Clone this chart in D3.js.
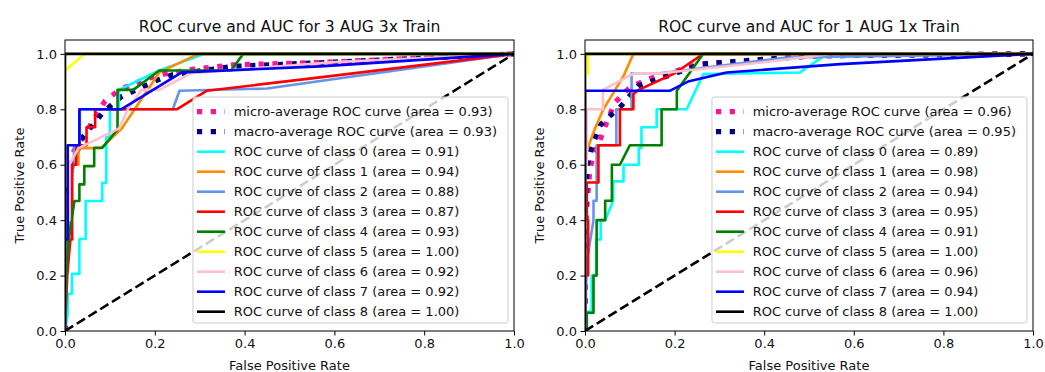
<!DOCTYPE html>
<html>
<head>
<meta charset="utf-8">
<script src="https://cdn.jsdelivr.net/npm/d3@7"></script>
<style>
body { margin: 0; background: #fff; }
text { font-family: "DejaVu Sans", sans-serif; fill: #111; }
</style>
</head>
<body>
<div id="chart"></div>
<script>
// chart values
var titles = ["ROC curve and AUC for 3 AUG 3x Train", "ROC curve and AUC for 1 AUG 1x Train"];
var tickValues = [0, 0.2, 0.4, 0.6, 0.8, 1.0];
var classColors = ["#00ffff", "#ff8c00", "#6495ed", "#ff0000", "#008000", "#ffff00", "#ffc0cb", "#0000ff", "#000000"];
var microColor = "#ff1493", macroColor = "#000080";

var aug3MicroArea = 0.93, aug3MacroArea = 0.93;
var aug3ClassAreas = [0.91, 0.94, 0.88, 0.87, 0.93, 1.00, 0.92, 0.92, 1.00];
var aug1MicroArea = 0.96, aug1MacroArea = 0.95;
var aug1ClassAreas = [0.89, 0.98, 0.94, 0.95, 0.91, 1.00, 0.96, 0.94, 1.00];

// [fpr, tpr] points, 3 AUG 3x
var aug3Micro = [[0,0],[0,0.3],[0.01,0.55],[0.02,0.65],[0.04,0.7],[0.063,0.76],[0.089,0.83],[0.119,0.867],[0.148,0.89],[0.182,0.91],[0.219,0.927],[0.286,0.945],[0.375,0.96],[0.568,0.969],[1,1]];
var aug3Macro = [[0,0],[0,0.3],[0.005,0.5],[0.02,0.62],[0.04,0.7],[0.063,0.745],[0.085,0.79],[0.125,0.845],[0.165,0.875],[0.205,0.905],[0.24,0.925],[0.375,0.955],[0.57,0.968],[1,1]];
var aug3Class0 = [[0,0],[0.006,0.06],[0.006,0.134],[0.0155,0.134],[0.0155,0.206],[0.032,0.206],[0.032,0.332],[0.046,0.332],[0.046,0.469],[0.083,0.469],[0.083,0.535],[0.092,0.535],[0.092,0.70],[0.10,0.70],[0.10,0.80],[0.12,0.80],[0.12,0.87],[0.21,0.94],[0.31,1],[1,1]];
var aug3Class1 = [[0,0],[0,0.33],[0.01,0.33],[0.01,0.6],[0.03,0.6],[0.03,0.66],[0.08,0.66],[0.126,0.73],[0.21,0.933],[0.297,1],[1,1]];
var aug3Class2 = [[0,0],[0.003,0.2],[0.006,0.5],[0.02,0.6],[0.02,0.67],[0.033,0.67],[0.033,0.8],[0.24,0.8],[0.255,0.867],[0.45,0.875],[1,1]];
var aug3Class3 = [[0,0],[0.005,0.2],[0.012,0.33],[0.016,0.33],[0.016,0.6],[0.025,0.6],[0.025,0.67],[0.048,0.67],[0.048,0.735],[0.067,0.735],[0.067,0.8],[0.249,0.8],[0.316,0.867],[0.568,0.915],[1,1]];
var aug3Class4 = [[0,0],[0.003,0.2],[0.008,0.33],[0.021,0.469],[0.032,0.469],[0.032,0.529],[0.043,0.529],[0.043,0.595],[0.065,0.595],[0.065,0.661],[0.083,0.661],[0.117,0.727],[0.117,0.87],[0.152,0.87],[0.21,0.94],[0.37,0.94],[0.397,1],[1,1]];
var aug3Class5 = [[0,0],[0,0.94],[0.044,1],[1,1]];
var aug3Class6 = [[0,0],[0,0.4],[0.01,0.4],[0.01,0.6],[0.03,0.66],[0.12,0.73],[0.14,0.8],[0.17,0.87],[0.21,0.87],[0.28,0.93],[0.6,0.97],[1,1]];
var aug3Class7 = [[0,0],[0,0.33],[0.006,0.33],[0.006,0.67],[0.032,0.67],[0.032,0.8],[0.125,0.8],[0.26,0.933],[0.568,0.955],[1,1]];
var aug3Class8 = [[0,0],[0,1],[1,1]];

// [fpr, tpr] points, 1 AUG 1x
var aug1Micro = [[0,0],[0,0.3],[0.004,0.45],[0.011,0.585],[0.02,0.64],[0.033,0.687],[0.05,0.76],[0.067,0.825],[0.1,0.879],[0.141,0.909],[0.205,0.939],[0.253,0.963],[0.51,0.993],[1,1]];
var aug1Macro = [[0,0],[0,0.35],[0.004,0.59],[0.015,0.663],[0.033,0.741],[0.056,0.777],[0.078,0.807],[0.119,0.885],[0.175,0.915],[0.26,0.963],[0.357,0.975],[0.51,0.993],[1,1]];
var aug1Class0 = [[0,0],[0.004,0.02],[0.004,0.07],[0.015,0.07],[0.015,0.2],[0.025,0.2],[0.025,0.33],[0.035,0.33],[0.035,0.4],[0.045,0.4],[0.063,0.47],[0.063,0.54],[0.086,0.54],[0.086,0.6],[0.12,0.6],[0.12,0.66],[0.126,0.66],[0.126,0.735],[0.16,0.735],[0.16,0.8],[0.227,0.8],[0.264,0.927],[0.48,0.933],[0.54,1],[1,1]];
var aug1Class1 = [[0,0],[0,0.6],[0.004,0.65],[0.022,0.73],[0.041,0.8],[0.06,0.85],[0.086,0.92],[0.108,1],[1,1]];
var aug1Class2 = [[0,0],[0.004,0.25],[0.019,0.4],[0.019,0.47],[0.026,0.47],[0.026,0.67],[0.07,0.67],[0.07,0.8],[0.104,0.8],[0.104,0.93],[0.167,0.93],[0.45,0.987],[1,1]];
var aug1Class3 = [[0,0],[0,0.2],[0.007,0.2],[0.007,0.4],[0.004,0.4],[0.004,0.536],[0.03,0.536],[0.03,0.67],[0.078,0.67],[0.078,0.8],[0.108,0.8],[0.108,0.855],[0.12,0.87],[0.2,0.93],[0.264,1],[1,1]];
var aug1Class4 = [[0,0],[0.004,0],[0.004,0.066],[0.019,0.066],[0.019,0.2],[0.026,0.2],[0.026,0.4],[0.045,0.4],[0.045,0.47],[0.06,0.47],[0.06,0.6],[0.078,0.6],[0.1,0.67],[0.171,0.67],[0.171,0.8],[0.205,0.8],[0.205,0.867],[0.264,1],[1,1]];
var aug1Class5 = [[0,0],[0,0.93],[0.007,0.93],[0.007,1],[1,1]];
var aug1Class6 = [[0,0],[0,0.6],[0.004,0.6],[0.004,0.8],[0.04,0.8],[0.04,0.87],[0.11,0.93],[0.17,0.93],[0.4,0.97],[0.55,1],[1,1]];
var aug1Class7 = [[0,0],[0,0.867],[0.19,0.867],[0.23,0.9],[0.316,0.933],[0.57,0.963],[1,1]];
var aug1Class8 = [[0,0],[0,1],[1,1]];

var aug3Classes = [aug3Class0, aug3Class1, aug3Class2, aug3Class3, aug3Class4, aug3Class5, aug3Class6, aug3Class7, aug3Class8];
var aug1Classes = [aug1Class0, aug1Class1, aug1Class2, aug1Class3, aug1Class4, aug1Class5, aug1Class6, aug1Class7, aug1Class8];

var svg = d3.select("#chart").append("svg")
    .attr("width", 1045)
    .attr("height", 372);

var f2 = d3.format(".2f"), f1 = d3.format(".1f");

function drawPanel(idx, x0, x1, micro, macro, microArea, macroArea, classes, areas) {
    var top = 40, bottom = 331;
    var x = d3.scaleLinear().domain([0, 1]).range([x0, x1]);
    var y = d3.scaleLinear().domain([0, 1.05]).range([bottom, top]);
    var g = svg.append("g");

    g.append("clipPath").attr("id", "clip" + idx)
      .append("rect").attr("x", x0).attr("y", top).attr("width", x1 - x0).attr("height", bottom - top);

    var line = d3.line().x(function(d) { return x(d[0]); }).y(function(d) { return y(d[1]); });
    var plot = g.append("g").attr("clip-path", "url(#clip" + idx + ")");

    // series list: label, data, colour, width, dash
    var series = [
        {label: "micro-average ROC curve (area = " + f2(microArea) + ")", data: micro, color: microColor, w: 5.2, dash: "5.2,8.6"},
        {label: "macro-average ROC curve (area = " + f2(macroArea) + ")", data: macro, color: macroColor, w: 5.2, dash: "5.2,8.6"}
    ];
    classes.forEach(function(c, i) {
        series.push({label: "ROC curve of class " + i + " (area = " + f2(areas[i]) + ")", data: c, color: classColors[i], w: 2.6, dash: null});
    });

    series.forEach(function(s) {
        plot.append("path")
          .attr("d", line(s.data))
          .attr("fill", "none")
          .attr("stroke", s.color)
          .attr("stroke-width", s.w)
          .attr("stroke-linejoin", "round")
          .attr("stroke-dasharray", s.dash);
    });

    // chance line
    plot.append("path")
      .attr("d", line([[0, 0], [1, 1]]))
      .attr("fill", "none")
      .attr("stroke", "#000")
      .attr("stroke-width", 2.6)
      .attr("stroke-dasharray", "9.6,4.2");

    // frame
    g.append("rect")
      .attr("x", x0).attr("y", top).attr("width", x1 - x0).attr("height", bottom - top)
      .attr("fill", "none").attr("stroke", "#000").attr("stroke-width", 1);

    var xAxis = g.append("g").attr("transform", "translate(0," + bottom + ")")
      .call(d3.axisBottom(x).tickValues(tickValues).tickFormat(f1).tickSize(4.5).tickSizeOuter(0).tickPadding(3.5));
    var yAxis = g.append("g").attr("transform", "translate(" + x0 + ",0)")
      .call(d3.axisLeft(y).tickValues(tickValues).tickFormat(f1).tickSize(4.5).tickSizeOuter(0).tickPadding(3.5));
    [xAxis, yAxis].forEach(function(a) {
        a.select(".domain").remove();
        a.selectAll("text").attr("font-size", 13).attr("font-family", "DejaVu Sans").attr("fill", "#111");
        a.selectAll("line").attr("stroke", "#000");
    });

    g.append("text")
      .attr("x", (x0 + x1) / 2).attr("y", 32)
      .attr("text-anchor", "middle").attr("font-size", 15.6)
      .text(titles[idx]);
    g.append("text")
      .attr("x", (x0 + x1) / 2).attr("y", 370)
      .attr("text-anchor", "middle").attr("font-size", 13)
      .text("False Positive Rate");
    g.append("text")
      .attr("transform", "translate(" + (x0 - 41) + "," + ((top + bottom) / 2) + ") rotate(-90)")
      .attr("text-anchor", "middle").attr("font-size", 13)
      .text("True Positive Rate");

    // legend, lower right
    var leg = g.append("g");
    var box = leg.append("rect").attr("rx", 2.6).attr("ry", 2.6)
      .attr("fill", "#fff").attr("fill-opacity", 0.8)
      .attr("stroke", "#cccccc").attr("stroke-width", 1);
    var maxW = 0;
    var rows = leg.selectAll("g.row").data(series).enter().append("g").attr("class", "row");
    rows.append("line")
      .attr("x1", 4).attr("x2", 32)
      .attr("y1", function(d, i) { return 14.7 + i * 20; })
      .attr("y2", function(d, i) { return 14.7 + i * 20; })
      .attr("stroke", function(d) { return d.color; })
      .attr("stroke-width", function(d) { return d.w; })
      .attr("stroke-dasharray", function(d) { return d.dash; });
    rows.append("text")
      .attr("x", 40.7)
      .attr("y", function(d, i) { return 14.7 + i * 20; })
      .attr("dy", "0.35em")
      .attr("font-size", 13)
      .text(function(d) { return d.label; })
      .each(function() { maxW = Math.max(maxW, this.getComputedTextLength()); });
    var bw = 40.7 + maxW + 11, bh = 226;
    box.attr("width", bw).attr("height", bh);
    leg.attr("transform", "translate(" + (x1 - 6 - bw) + "," + (bottom - 8 - bh) + ")");
}

drawPanel(0, 65, 514, aug3Micro, aug3Macro, aug3MicroArea, aug3MacroArea, aug3Classes, aug3ClassAreas);
drawPanel(1, 585, 1033, aug1Micro, aug1Macro, aug1MicroArea, aug1MacroArea, aug1Classes, aug1ClassAreas);
</script>
</body>
</html>
